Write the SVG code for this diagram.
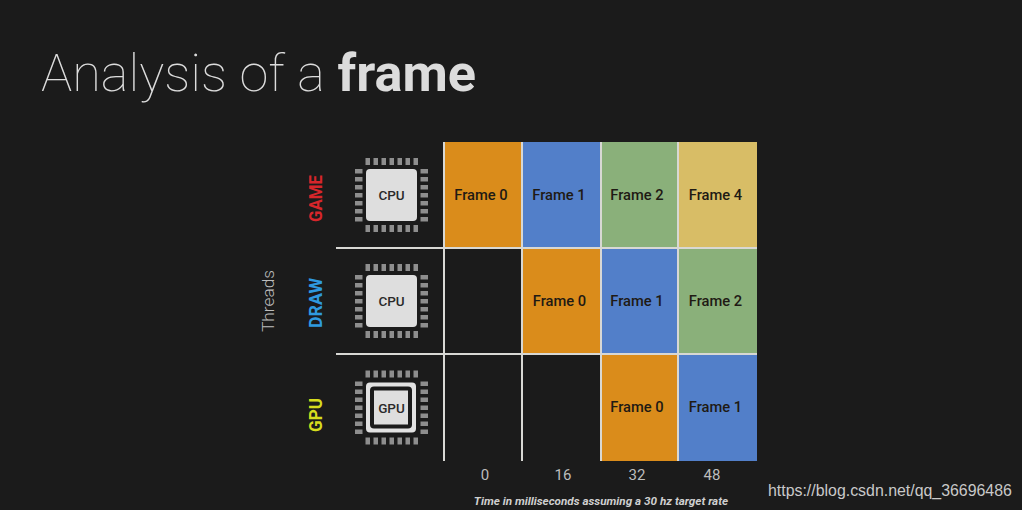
<svg xmlns="http://www.w3.org/2000/svg" width="1022" height="510" viewBox="0 0 1022 510">
<style>
text{font-family:Roboto,"Liberation Sans",sans-serif}
.cell{font-size:14.700px;font-weight:500;fill:#1f1a14;text-anchor:middle}
.chip{font-size:13.500px;font-weight:500;fill:#2a2a2a;text-anchor:middle}
.tick{font-size:15px;fill:#bdbdbd;text-anchor:middle}
.thread{font-size:18px;font-weight:700;text-anchor:middle}
.o{fill:#da8c1b}.b{fill:#527fc9}.g{fill:#8ab07a}.y{fill:#d8bd66}
.pin{fill:#8e8e8e}
.ln{stroke:#d8d8d4;stroke-width:2;fill:none}
</style>
<defs>
<g id="pins">
<rect class="pin" x="-26" y="-37" width="4.500" height="7"/><rect class="pin" x="-26" y="30" width="4.500" height="7"/>
<rect class="pin" x="-18" y="-37" width="4.500" height="7"/><rect class="pin" x="-18" y="30" width="4.500" height="7"/>
<rect class="pin" x="-10" y="-37" width="4.500" height="7"/><rect class="pin" x="-10" y="30" width="4.500" height="7"/>
<rect class="pin" x="-2" y="-37" width="4.500" height="7"/><rect class="pin" x="-2" y="30" width="4.500" height="7"/>
<rect class="pin" x="6" y="-37" width="4.500" height="7"/><rect class="pin" x="6" y="30" width="4.500" height="7"/>
<rect class="pin" x="14" y="-37" width="4.500" height="7"/><rect class="pin" x="14" y="30" width="4.500" height="7"/>
<rect class="pin" x="22" y="-37" width="4.500" height="7"/><rect class="pin" x="22" y="30" width="4.500" height="7"/>
<rect class="pin" x="-36.500" y="-26" width="7.500" height="4.500"/><rect class="pin" x="29" y="-26" width="7.500" height="4.500"/>
<rect class="pin" x="-36.500" y="-18" width="7.500" height="4.500"/><rect class="pin" x="29" y="-18" width="7.500" height="4.500"/>
<rect class="pin" x="-36.500" y="-10" width="7.500" height="4.500"/><rect class="pin" x="29" y="-10" width="7.500" height="4.500"/>
<rect class="pin" x="-36.500" y="-2" width="7.500" height="4.500"/><rect class="pin" x="29" y="-2" width="7.500" height="4.500"/>
<rect class="pin" x="-36.500" y="6" width="7.500" height="4.500"/><rect class="pin" x="29" y="6" width="7.500" height="4.500"/>
<rect class="pin" x="-36.500" y="14" width="7.500" height="4.500"/><rect class="pin" x="29" y="14" width="7.500" height="4.500"/>
<rect class="pin" x="-36.500" y="22" width="7.500" height="4.500"/><rect class="pin" x="29" y="22" width="7.500" height="4.500"/>
</g>
</defs>
<rect width="1022" height="510" fill="#1b1b1b"/>
<text x="41" y="91" font-size="52.300" fill="#dcdcdc" font-weight="100">Analysis of a <tspan font-weight="700">frame</tspan></text>

<g id="cells">
<rect class="o" x="444" y="142" width="78" height="106"/><text class="cell" x="481" y="200">Frame 0</text>
<rect class="b" x="522" y="142" width="79" height="106"/><text class="cell" x="559" y="200">Frame 1</text>
<rect class="g" x="601" y="142" width="77" height="106"/><text class="cell" x="637" y="200">Frame 2</text>
<rect class="y" x="678" y="142" width="79" height="106"/><text class="cell" x="715.500" y="200">Frame 4</text>
<rect class="o" x="522" y="248" width="79" height="106"/><text class="cell" x="559.500" y="306">Frame 0</text>
<rect class="b" x="601" y="248" width="77" height="106"/><text class="cell" x="637" y="306">Frame 1</text>
<rect class="g" x="678" y="248" width="79" height="106"/><text class="cell" x="715.500" y="306">Frame 2</text>
<rect class="o" x="601" y="354" width="77" height="107"/><text class="cell" x="637" y="412">Frame 0</text>
<rect class="b" x="678" y="354" width="79" height="107"/><text class="cell" x="715.500" y="412">Frame 1</text>
</g>

<g id="connectors">
<path class="ln" d="M444 142V461M522 142V461M601 142V461M678 142V461"/>
<path class="ln" d="M336 248H757M336 354H757"/>
</g>

<g id="cpu-game" transform="translate(391.500,195)">
<use href="#pins"/><rect x="-25.500" y="-26" width="51" height="52" rx="4" fill="#dedede"/><text class="chip" x="0" y="5">CPU</text>
</g>
<g id="cpu-draw" transform="translate(391.500,301)">
<use href="#pins"/><rect x="-25.500" y="-26" width="51" height="52" rx="4" fill="#dedede"/><text class="chip" x="0" y="5">CPU</text>
</g>
<g id="gpu" transform="translate(391.500,407.500)">
<use href="#pins"/><rect x="-25.500" y="-25" width="50" height="50" rx="4" fill="#e2e2e2"/><rect x="-21.500" y="-21" width="42" height="42" rx="4" fill="#1b1b1b"/><rect x="-17.500" y="-17" width="34" height="34" fill="#dedede"/><text class="chip" x="0" y="5">GPU</text>
</g>

<g id="labels">
<text class="thread" transform="translate(322,198.500) rotate(-90)" fill="#d7262b" textLength="47" lengthAdjust="spacingAndGlyphs">GAME</text>
<text class="thread" transform="translate(322,303) rotate(-90)" fill="#2f9ae0" textLength="50" lengthAdjust="spacingAndGlyphs">DRAW</text>
<text class="thread" transform="translate(322,415) rotate(-90)" fill="#d6dc1e" textLength="34" lengthAdjust="spacingAndGlyphs">GPU</text>
<text transform="translate(274,301) rotate(-90)" font-size="17.300" font-weight="300" fill="#bdbdbd" text-anchor="middle">Threads</text>
<text class="tick" x="485" y="480">0</text>
<text class="tick" x="563" y="480">16</text>
<text class="tick" x="637" y="480">32</text>
<text class="tick" x="712" y="480">48</text>
<text x="601" y="505" font-size="11.700" font-weight="700" font-style="italic" fill="#cfcfcf" text-anchor="middle">Time in milliseconds assuming a 30 hz target rate</text>
<text x="768" y="496" font-size="15.900" fill="#c9c9c9" style="font-family:'Liberation Sans',Arial,sans-serif">https://blog.csdn.net/qq_36696486</text>
</g>
</svg>
